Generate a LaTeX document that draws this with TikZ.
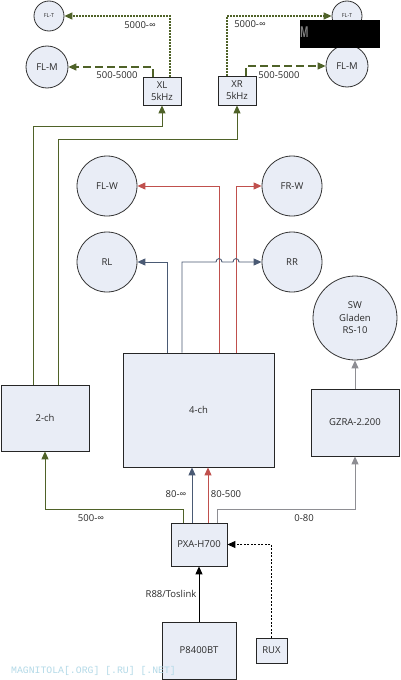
\documentclass[tikz,border=0pt]{standalone}
\usepackage{fontspec}
\setmainfont{Open Sans}
\setmonofont{Liberation Mono}
\usetikzlibrary{arrows.meta}
\definecolor{fillc}{HTML}{E9EDF6}
\definecolor{greenc}{HTML}{4F6228}
\definecolor{redc}{HTML}{C0504D}
\definecolor{bluec}{HTML}{4A5A74}
\definecolor{grayc}{HTML}{8E8E93}
\definecolor{txtc}{HTML}{2A2A2A}
\definecolor{wmc}{HTML}{B4DAE8}
\tikzset{
  spk/.style={circle,draw=black!80,fill=fillc,line width=0.8pt,inner sep=0pt,align=center,text=txtc,font=\fontsize{9.5}{11}\selectfont},
  blk/.style={rectangle,draw=black!85,fill=fillc,line width=0.8pt,inner sep=0pt,align=center,text=txtc,font=\fontsize{9.5}{12}\selectfont},
  tip/.style={-{Triangle[length=8pt,width=7pt]}},
  gline/.style={draw=greenc,line width=0.9pt,tip},
  rline/.style={draw=redc,line width=0.9pt,tip},
  bline/.style={draw=bluec,line width=0.9pt,tip},
  yline/.style={draw=grayc,line width=0.9pt,tip},
  dotg/.style={gline,dash pattern=on 1.5pt off 1.5pt,line width=1.2pt},
  dashg/.style={gline,dash pattern=on 8pt off 4pt,line width=1.2pt},
  lbl/.style={text=txtc,font=\fontsize{9.5}{11}\selectfont,inner sep=0pt},
}
\begin{document}
\begin{tikzpicture}[x=1pt,y=-1pt]
\useasboundingbox[fill=white] (0,0) rectangle (400,680);
% top speakers
\node[spk,minimum size=30pt,font=\fontsize{5.5}{6}\selectfont] (flt) at (49,16) {FL-T};
\node[spk,minimum size=42pt] (flm) at (47,67) {FL-M};
\node[spk,minimum size=30pt,font=\fontsize{5.5}{6}\selectfont] (frt) at (347,16) {FL-T};
\node[spk,minimum size=42pt] (frm) at (347,66) {FL-M};
\node[fill=black,minimum width=80pt,minimum height=28pt,inner sep=0pt] (blackbox) at (340,34) {};
\node[text=gray,font=\fontsize{15}{15}\selectfont\bfseries,inner sep=0pt,anchor=west,xscale=0.6] (mark) at (300,32) {M};
% crossovers
\node[blk,minimum width=38pt,minimum height=28pt] (xl) at (162,91) {XL\\5kHz};
\node[blk,minimum width=38pt,minimum height=29pt] (xr) at (237,90.5) {XR\\5kHz};
% middle speakers
\node[spk,minimum size=60pt] (flw) at (107,186) {FL-W};
\node[spk,minimum size=60pt] (frw) at (292,186) {FR-W};
\node[spk,minimum size=60pt] (rl) at (107,262) {RL};
\node[spk,minimum size=60pt] (rr) at (292,262) {RR};
\node[spk,minimum size=84pt,font=\fontsize{9.5}{12.5}\selectfont] (sw) at (355,318) {SW\\Gladen\\RS-10};
% amps
\node[blk,minimum width=88pt,minimum height=66pt] (twoch) at (45,418) {2-ch};
\node[blk,minimum width=151pt,minimum height=114pt] (fourch) at (198.5,410) {4-ch};
\node[blk,minimum width=88pt,minimum height=67pt] (gzra) at (355,422.5) {GZRA-2.200};
\node[blk,minimum width=56pt,minimum height=43pt] (pxa) at (199,544.5) {PXA-H700};
\node[blk,minimum width=74pt,minimum height=57pt] (p84) at (199,650.5) {P8400BT};
\node[blk,minimum width=31pt,minimum height=25pt] (rux) at (271.5,650.5) {RUX};
% 2-ch -> crossovers
\draw[gline] (33,0 |- twoch.north) -- (33,126) -| (xl.south);
\draw[gline] (58,0 |- twoch.north) -- (58,139) -| (xr.south);
% crossovers -> speakers
\draw[dotg] (170,0 |- xl.north) |- (flt.east);
\draw[dashg] (153,0 |- xl.north) |- (flm.east);
\draw[dotg] (227,0 |- xr.north) |- (frt.west);
\draw[dashg] (246,0 |- xr.north) |- (frm.west);
\node[lbl] (l1) at (140,25) {5000-∞};
\node[lbl] (l2) at (117,75) {500-5000};
\node[lbl] (l3) at (250,24) {5000-∞};
\node[lbl] (l4) at (279,75) {500-5000};
% 4-ch -> speakers
\draw[rline] (219,0 |- fourch.north) |- (flw.east);
\draw[rline] (236,0 |- fourch.north) |- (frw.west);
\draw[bline] (167,0 |- fourch.north) |- (rl.east);
\draw[bline] (182,0 |- fourch.north) -- (182,262) -- (216,262)
  .. controls (216,257.5) and (222,257.5) .. (222,262) -- (233,262)
  .. controls (233,257.5) and (239,257.5) .. (239,262) -- (rr.west);
% sub
\draw[yline] (gzra.north) -- (sw.south);
% PXA outputs
\draw[gline] (183,0 |- pxa.north) -- (183,509) -| (twoch.south);
\draw[bline] (192,0 |- pxa.north) -- (192,0 |- fourch.south);
\draw[rline] (208,0 |- pxa.north) -- (208,0 |- fourch.south);
\draw[yline] (217,0 |- pxa.north) -- (217,509) -| (gzra.south);
\node[lbl] (l5) at (176,494) {80-∞};
\node[lbl] (l6) at (226,494) {80-500};
\node[lbl] (l7) at (91,518) {500-∞};
\node[lbl] (l8) at (304,518) {0-80};
% inputs
\draw[tip,draw=black,line width=0.9pt] (p84.north) -- (pxa.south);
\node[lbl] (l9) at (171,594) {R88/Toslink};
\draw[tip,draw=black,line width=0.9pt,dash pattern=on 2pt off 1.5pt] (rux.north) |- (pxa.east);
% watermark
\node[text=wmc,font=\ttfamily\fontsize{9.8}{10}\selectfont,inner sep=0pt,anchor=west] (wm) at (11,671) {MAGNITOLA[.ORG] [.RU] [.NET]};
\end{tikzpicture}
\end{document}
